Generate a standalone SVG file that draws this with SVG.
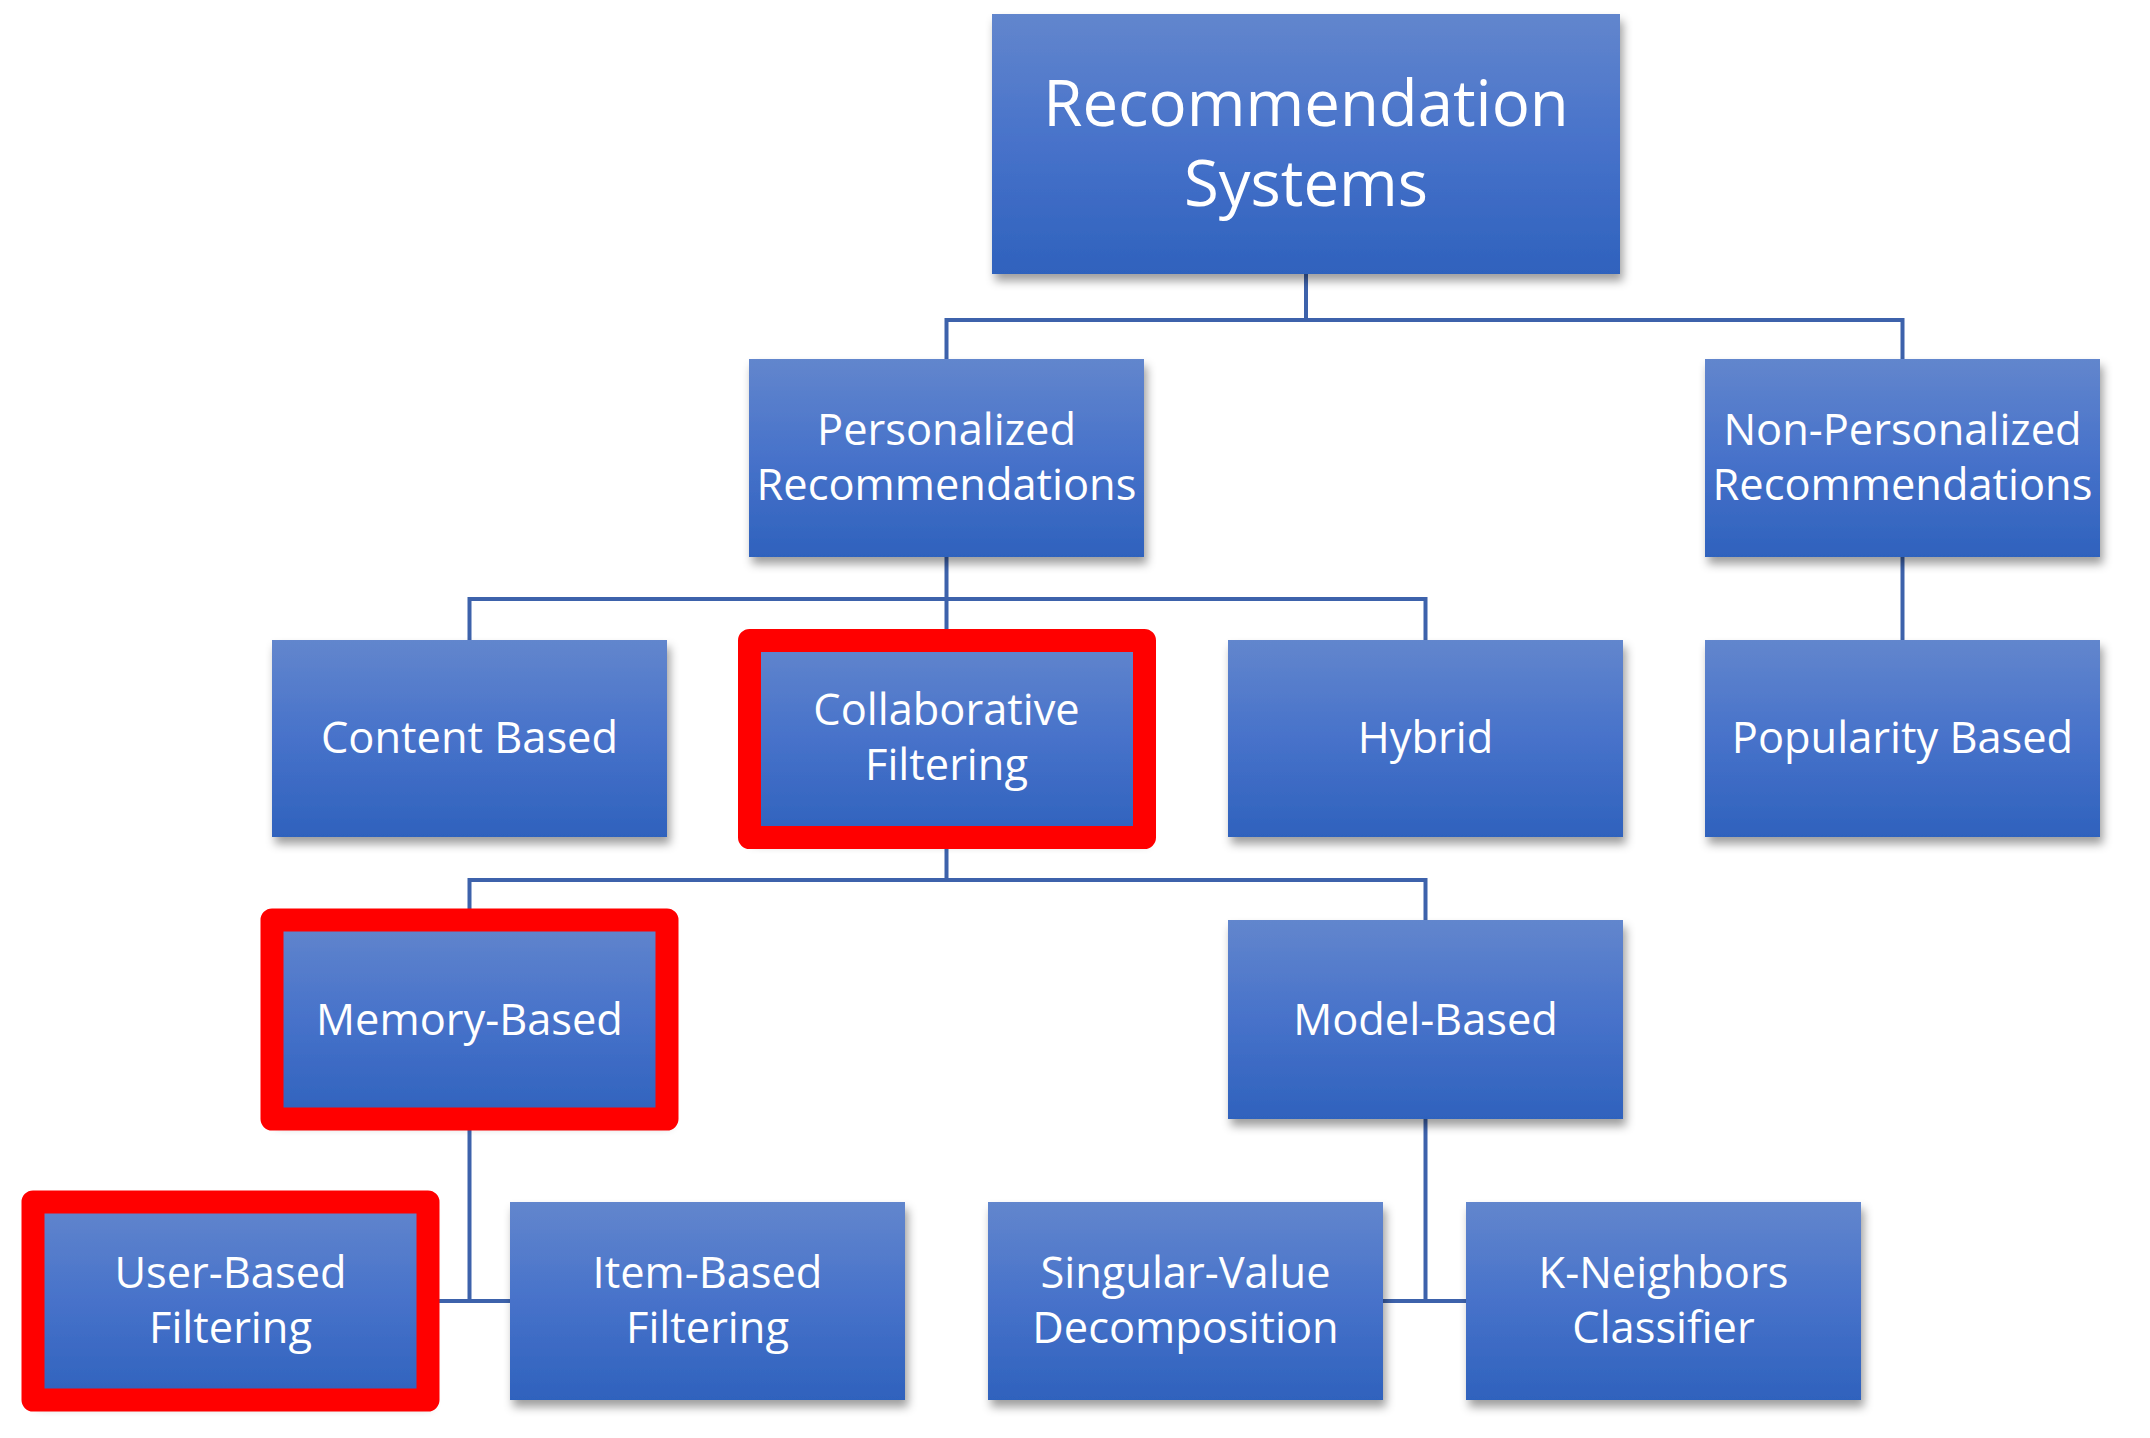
<svg xmlns="http://www.w3.org/2000/svg" width="2150" height="1438" viewBox="0 0 2150 1438">
<defs>
<linearGradient id="g" x1="0" y1="0" x2="0" y2="1">
<stop offset="0" stop-color="#6286CD"/>
<stop offset="0.5" stop-color="#4772CA"/>
<stop offset="1" stop-color="#2F62BD"/>
</linearGradient>
<filter id="sh" x="-10%" y="-10%" width="125%" height="130%">
<feDropShadow dx="3" dy="7" stdDeviation="5" flood-color="#000" flood-opacity="0.38"/>
</filter>
<style>
.box{fill:url(#g);filter:url(#sh)}
.hl{fill:none;stroke:#FF0000;stroke-width:23;stroke-linejoin:round}
.t{fill:#fff;font-family:"Open Sans","Noto Sans","DejaVu Sans",sans-serif;font-size:43.4px;text-anchor:middle}
.big{font-size:63.5px}
.c{fill:none;stroke:#3D62AB;stroke-width:4}
</style>
</defs>
<rect width="2150" height="1438" fill="#fff"/>
<g id="connectors">
<path class="c" d="M1306 274V320M946.5 359V320H1902.5V359"/>
<path class="c" d="M946.5 557V640M469.5 640V599H1425.5V640"/>
<path class="c" d="M1902.5 557V640"/>
<path class="c" d="M946.5 837V880M469.5 920V880H1425.5V920"/>
<path class="c" d="M469.5 1119V1301M428 1301H510"/>
<path class="c" d="M1425.5 1119V1301M1383 1301H1466"/>
</g>
<g id="root"><rect class="box" x="992" y="14" width="628" height="260"/>
<text class="t big" x="1306" y="126">Recommendation</text><text class="t big" x="1306" y="206">Systems</text></g>
<g id="personalized"><rect class="box" x="749" y="359" width="395" height="198"/>
<text class="t" x="946.5" y="445">Personalized</text><text class="t" x="946.5" y="500">Recommendations</text></g>
<g id="nonpersonalized"><rect class="box" x="1705" y="359" width="395" height="198"/>
<text class="t" x="1902.5" y="445">Non-Personalized</text><text class="t" x="1902.5" y="500">Recommendations</text></g>
<g id="content"><rect class="box" x="272" y="640" width="395" height="197"/>
<text class="t" x="469.5" y="753">Content Based</text></g>
<g id="collaborative"><rect class="box" x="749" y="640" width="395" height="197"/><rect class="hl" x="749.5" y="640.5" width="395" height="197"/>
<text class="t" x="946.5" y="725">Collaborative</text><text class="t" x="946.5" y="780">Filtering</text></g>
<g id="hybrid"><rect class="box" x="1228" y="640" width="395" height="197"/>
<text class="t" x="1425.5" y="753">Hybrid</text></g>
<g id="popularity"><rect class="box" x="1705" y="640" width="395" height="197"/>
<text class="t" x="1902.5" y="753">Popularity Based</text></g>
<g id="memory"><rect class="box" x="272" y="920" width="395" height="199"/><rect class="hl" x="272" y="920" width="395" height="199"/>
<text class="t" x="469.5" y="1035">Memory-Based</text></g>
<g id="model"><rect class="box" x="1228" y="920" width="395" height="199"/>
<text class="t" x="1425.5" y="1035">Model-Based</text></g>
<g id="user"><rect class="box" x="33" y="1202" width="395" height="198"/><rect class="hl" x="33" y="1202" width="395" height="198"/>
<text class="t" x="230.5" y="1288">User-Based</text><text class="t" x="230.5" y="1343">Filtering</text></g>
<g id="item"><rect class="box" x="510" y="1202" width="395" height="198"/>
<text class="t" x="707.5" y="1288">Item-Based</text><text class="t" x="707.5" y="1343">Filtering</text></g>
<g id="svd"><rect class="box" x="988" y="1202" width="395" height="198"/>
<text class="t" x="1185.5" y="1288">Singular-Value</text><text class="t" x="1185.5" y="1343">Decomposition</text></g>
<g id="knn"><rect class="box" x="1466" y="1202" width="395" height="198"/>
<text class="t" x="1663.5" y="1288">K-Neighbors</text><text class="t" x="1663.5" y="1343">Classifier</text></g>
</svg>
